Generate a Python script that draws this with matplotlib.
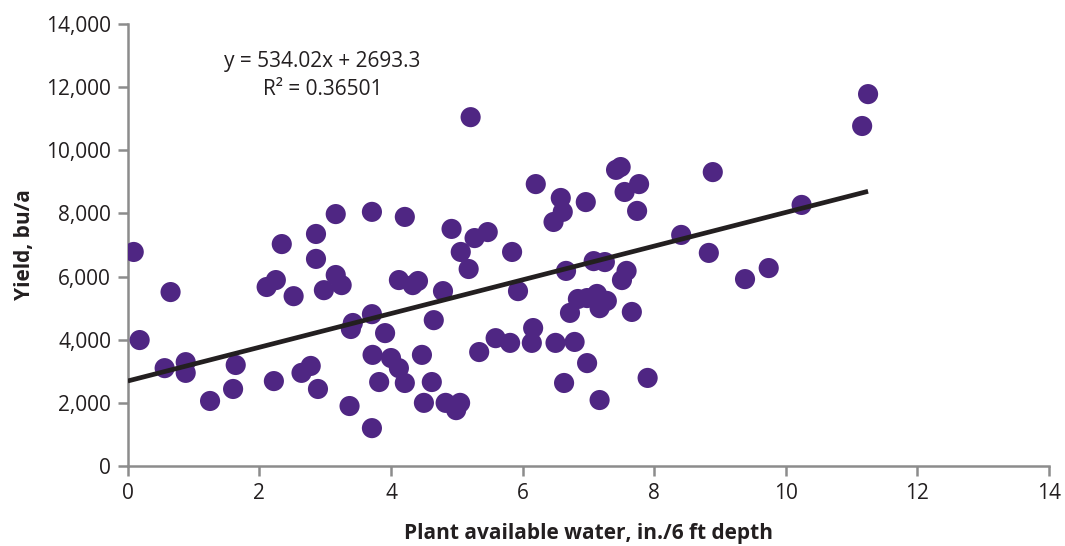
import matplotlib
matplotlib.use("Agg")
import matplotlib.pyplot as plt
import numpy as np
from matplotlib.ticker import FuncFormatter, MultipleLocator

# data
water = [0.09, 0.18, 0.65, 0.56, 0.88, 0.88, 1.25, 1.64, 1.60, 2.11,
         2.25, 2.34, 2.22, 2.52, 2.64, 2.78, 2.86, 2.86, 2.89, 2.98,
         3.16, 3.16, 3.25, 3.37, 3.39, 3.42, 3.71, 3.71, 3.71, 3.72,
         3.82, 3.91, 4.00, 4.12, 4.12, 4.21, 4.21, 4.33, 4.41, 4.47,
         4.50, 4.62, 4.65, 4.79, 4.83, 4.92, 4.99, 5.05, 5.06, 5.18,
         5.21, 5.27, 5.34, 5.47, 5.59, 5.81, 5.84, 5.93, 6.14, 6.16,
         6.20, 6.47, 6.50, 6.58, 6.61, 6.63, 6.66, 6.72, 6.79, 6.84,
         6.98, 6.96, 6.98, 7.08, 7.13, 7.17, 7.17, 7.25, 7.28, 7.42,
         7.49, 7.51, 7.55, 7.58, 7.66, 7.74, 7.77, 7.90, 8.41, 8.83,
         8.89, 9.38, 9.74, 10.24, 11.16, 11.25]
yield_bu = [6780, 3990, 5510, 3100, 3290, 2950, 2060, 3200, 2440, 5670,
            5890, 7030, 2690, 5380, 2950, 3170, 7350, 6560, 2440, 5570,
            7980, 6050, 5730, 1900, 4340, 4530, 8050, 4810, 1200, 3520,
            2660, 4210, 3420, 3100, 5890, 7890, 2630, 5730, 5860, 3520,
            2000, 2660, 4620, 5540, 2000, 7510, 1770, 2000, 6780, 6240,
            11050, 7220, 3610, 7410, 4050, 3900, 6780, 5540, 3900, 4370,
            8930, 7730, 3900, 8490, 8050, 2630, 6180, 4850, 3930, 5290,
            5320, 8360, 3260, 6490, 5450, 5000, 2090, 6460, 5230, 9380,
            9470, 5890, 8680, 6180, 4880, 8080, 8930, 2790, 7320, 6750,
            9310, 5920, 6270, 8270, 10770, 11780]

slope = 534.02
intercept = 2693.3
r_squared = 0.36501

purple = '#4f2683'
gray = '#8c8c8c'
plt.rcParams['font.family'] = ['Open Sans', 'DejaVu Sans']

fig = plt.figure(figsize=(10.65, 5.46), dpi=100)
ax = fig.add_axes([0.120, 0.1465, 0.865, 0.8095])

ax.scatter(water, yield_bu, s=210, color=purple, edgecolors='none', zorder=3)

fit_x = np.array([0, max(water)])
ax.plot(fit_x, slope * fit_x + intercept, color='#231f20', lw=3.4, zorder=4,
        solid_capstyle='butt')

ax.text(2.96, 12800, 'y = %.2fx + %.1f' % (slope, intercept),
        ha='center', va='center', fontsize=15, color='#231f20')
ax.text(2.96, 11920, 'R\u00b2 = %.5f' % r_squared,
        ha='center', va='center', fontsize=15, color='#231f20')

ax.set_xlim(0, 14)
ax.set_ylim(0, 14000)
ax.xaxis.set_major_locator(MultipleLocator(2))
ax.yaxis.set_major_locator(MultipleLocator(2000))
ax.yaxis.set_major_formatter(FuncFormatter(lambda v, p: '{:,.0f}'.format(v)))

for side in ['top', 'right']:
    ax.spines[side].set_visible(False)
for side in ['left', 'bottom']:
    ax.spines[side].set_color(gray)
    ax.spines[side].set_linewidth(1.8)
ax.tick_params(direction='out', length=7, width=1.8, color=gray,
               labelsize=15, labelcolor='#231f20', pad=5)

ax.set_xlabel('Plant available water, in./6 ft depth', fontsize=15,
              fontweight='bold', color='#231f20', labelpad=14)
ax.set_ylabel('Yield, bu/a', fontsize=15, fontweight='bold',
              color='#231f20', labelpad=8)

plt.savefig('out.png', dpi=100)
